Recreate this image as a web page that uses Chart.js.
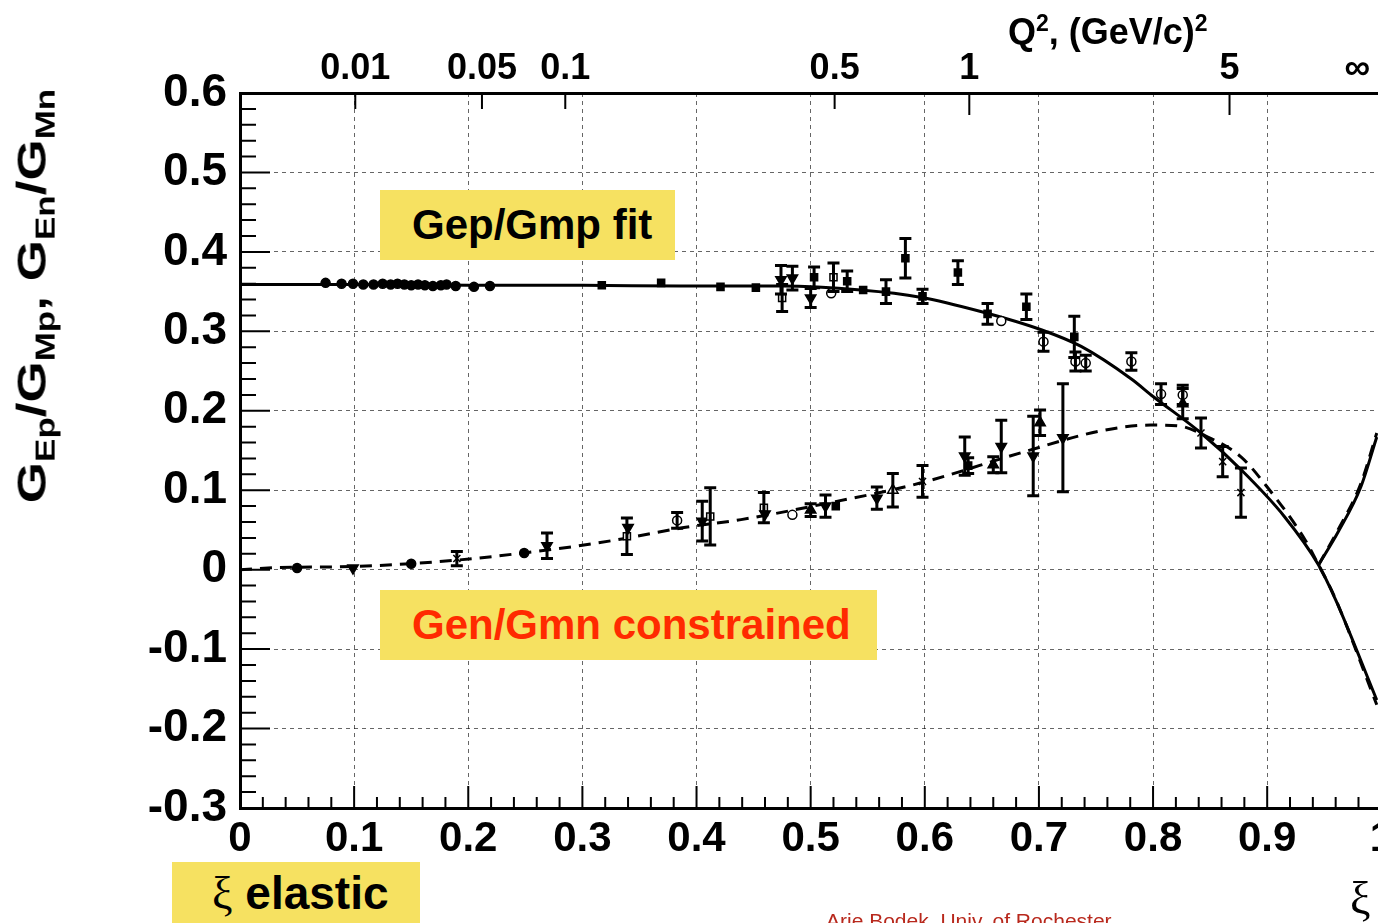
<!DOCTYPE html>
<html>
<head>
<meta charset="utf-8">
<script src="https://cdn.jsdelivr.net/npm/chart.js@4"></script>
<style>
  body { margin: 0; overflow: hidden; background: #fff; font-family: "Liberation Sans", Arial, sans-serif; }
  #wrap { position: relative; width: 1378px; height: 923px; overflow: hidden; }
  canvas { position: absolute; left: 0; top: 0; }
  .lbl { position: absolute; font-weight: bold; white-space: nowrap; }
  .box { position: absolute; background: #f6e161; font-weight: bold; font-size: 42px; white-space: nowrap; box-sizing: border-box; }
</style>
</head>
<body>
<div id="wrap">
  <canvas id="chart" width="1399" height="923"></canvas>
  <div class="lbl" id="ytitle" style="left:-178px; top:266px; width:420px; height:60px; line-height:60px; font-size:53px; text-align:center; transform: rotate(-90deg) scale(1, 0.78);">G<sub style="font-size:35px">Ep</sub>/G<sub style="font-size:35px">Mp</sub>, G<sub style="font-size:35px">En</sub>/G<sub style="font-size:35px">Mn</sub></div>
  <div class="lbl" style="left:1008px; top:10px; font-size:36px;">Q<sup style="font-size:23px">2</sup>, (GeV/c)<sup style="font-size:23px">2</sup></div>
  <div class="box" style="left:380px; top:190px; width:295px; height:70px; line-height:70px; padding-left:32px; color:#000;">Gep/Gmp fit</div>
  <div class="box" style="left:380px; top:590px; width:497px; height:70px; line-height:70px; padding-left:32px; color:#ff2a00;">Gen/Gmn constrained</div>
  <div class="box" style="left:172px; top:862px; width:248px; height:70px; line-height:62px; padding-left:40px; font-size:46px; color:#000;"><span style="font-family:'Liberation Serif',serif; font-weight:normal;">ξ</span> elastic</div>
  <div class="lbl" style="left:826px; top:909px; font-size:21px; font-weight:normal; color:#b8281c;">Arie Bodek, Univ. of Rochester</div>
  <div class="lbl" style="left:1350px; top:872px; font-size:46px; font-weight:normal; font-family:'Liberation Serif',serif;">ξ</div>
</div>
<script>
// top axis: Q^2 labels and where they sit in xi
const q2Labels = ['0.01', '0.05', '0.1', '0.5', '1', '5', '∞'];
const q2Xi = [0.101, 0.212, 0.285, 0.521, 0.639, 0.867, 0.979];

// Gep/Gmp fit (solid) and its reflected branch
const fitX = [0, 0.1, 0.2, 0.3, 0.386, 0.474, 0.544, 0.596, 0.649, 0.702, 0.737, 0.781, 0.8, 0.842, 0.877, 0.915, 0.945, 0.96, 0.996];
const fitY = [0.359, 0.359, 0.358, 0.358, 0.357, 0.357, 0.352, 0.343, 0.325, 0.302, 0.281, 0.24, 0.218, 0.172, 0.126, 0.067, 0.006, -0.038, -0.164];
const fitUpX = [0.945, 0.962, 0.982, 0.996];
const fitUpY = [0.006, 0.047, 0.104, 0.167];

// Gen/Gmn constrained (dashed) and its reflected branch
const conX = [0, 0.032, 0.1, 0.149, 0.205, 0.248, 0.292, 0.336, 0.389, 0.439, 0.509, 0.596, 0.684, 0.752, 0.798, 0.822, 0.848, 0.877, 0.9, 0.933, 0.945, 0.959, 0.996];
const conY = [0, 0.0025, 0.004, 0.0075, 0.014, 0.021, 0.029, 0.039, 0.053, 0.063, 0.082, 0.109, 0.147, 0.174, 0.182, 0.181, 0.167, 0.142, 0.104, 0.038, 0.006, -0.034, -0.17];
const conUpX = [0.945, 0.962, 0.982, 0.996];
const conUpY = [0.006, 0.05, 0.108, 0.172];

// proton data
const gepX = [0.075, 0.089, 0.099, 0.108, 0.117, 0.125, 0.132, 0.138, 0.144, 0.150, 0.156, 0.162, 0.169, 0.176, 0.181, 0.189, 0.205, 0.219,
  0.317, 0.369, 0.421, 0.452, 0.474, 0.475, 0.484, 0.500, 0.503, 0.518, 0.520, 0.532, 0.546, 0.566, 0.583, 0.598, 0.629, 0.655, 0.667,
  0.689, 0.704, 0.731, 0.732, 0.741, 0.781, 0.807, 0.826, 0.826, 0.842, 0.861, 0.877];
const gepY = [0.361, 0.360, 0.360, 0.359, 0.359, 0.360, 0.359, 0.360, 0.359, 0.358, 0.359, 0.358, 0.357, 0.358, 0.359, 0.357, 0.356, 0.357,
  0.358, 0.361, 0.356, 0.355, 0.365, 0.342, 0.367, 0.342, 0.368, 0.348, 0.368, 0.363, 0.352, 0.350, 0.392, 0.344, 0.374, 0.322, 0.313,
  0.331, 0.287, 0.293, 0.262, 0.260, 0.262, 0.221, 0.220, 0.209, 0.172, 0.136, 0.097];
const gepErr = [0, 0, 0, 0, 0, 0, 0, 0, 0, 0, 0, 0, 0, 0, 0, 0, 0, 0,
  0, 0, 0, 0, 0.018, 0.017, 0.015, 0.012, 0.013, 0, 0.018, 0.013, 0, 0.015, 0.025, 0.009, 0.015, 0.013, 0,
  0.016, 0.012, 0.026, 0.012, 0.010, 0.011, 0.013, 0.012, 0.019, 0.019, 0.019, 0.031];
const gepMark = ['circ', 'circ', 'circ', 'circ', 'circ', 'circ', 'circ', 'circ', 'circ', 'circ', 'circ', 'circ', 'circ', 'circ', 'circ', 'circ', 'circ', 'circ',
  'sq', 'sq', 'sq', 'sq', 'triD', 'osq', 'triD', 'triD', 'sq', 'ocirc', 'osq', 'sq', 'sq', 'sq', 'sq', 'sq', 'sq', 'sq', 'ocirc',
  'sq', 'ocirc', 'sq', 'ocirc', 'ocirc', 'ocirc', 'ocirc', 'ocirc', 'tri', 'x', 'x', 'x'];

// neutron data
const genX = [0.050, 0.099, 0.150, 0.190, 0.249, 0.269, 0.339, 0.340, 0.383, 0.405, 0.412, 0.459, 0.460, 0.484, 0.500, 0.513, 0.522,
  0.558, 0.572, 0.598, 0.635, 0.638, 0.660, 0.667, 0.695, 0.701, 0.721];
const genY = [0.002, 0.002, 0.0075, 0.014, 0.021, 0.030, 0.042, 0.053, 0.062, 0.061, 0.067, 0.078, 0.070, 0.069, 0.075, 0.080, 0.080,
  0.090, 0.100, 0.111, 0.143, 0.131, 0.132, 0.155, 0.143, 0.185, 0.166];
const genErr = [0, 0, 0, 0.009, 0, 0.016, 0.023, 0, 0.010, 0.025, 0.036, 0.019, 0, 0, 0.008, 0.014, 0,
  0.014, 0.021, 0.020, 0.024, 0.010, 0.010, 0.033, 0.050, 0.016, 0.068];
const genMark = ['circ', 'triD', 'circ', 'x', 'circ', 'triD', 'osq', 'triD', 'ocirc', 'triD', 'osq', 'osq', 'triD', 'ocirc', 'tri', 'triD', 'sq',
  'triD', 'otri', 'x', 'triD', 'sq', 'tri', 'triD', 'triD', 'tri', 'triD'];

const markStyle = {
  circ: ['circle', 0, '#000', 4.5],
  ocirc: ['circle', 0, '#fff', 4.5],
  sq: ['rect', 0, '#000', 5],
  osq: ['rect', 0, '#fff', 5],
  tri: ['triangle', 0, '#000', 6],
  otri: ['triangle', 0, '#fff', 6],
  triD: ['triangle', 180, '#000', 6],
  x: ['crossRot', 0, '#000', 5]
};

const pts = (xs, ys) => xs.map((x, i) => ({x: x, y: ys[i]}));

function dataSet(xs, ys, errs, marks) {
  return {
    type: 'scatter', data: pts(xs, ys), errors: errs, order: 1,
    pointStyle: marks.map(m => markStyle[m][0]),
    rotation: marks.map(m => markStyle[m][1]),
    backgroundColor: marks.map(m => markStyle[m][2]),
    pointRadius: marks.map(m => markStyle[m][3]),
    borderColor: '#000', borderWidth: 1.5
  };
}

function curve(xs, ys, dash) {
  return {
    type: 'line', data: pts(xs, ys), order: 2,
    borderColor: '#000', borderWidth: 3, borderDash: dash,
    pointRadius: 0, fill: false, cubicInterpolationMode: 'monotone'
  };
}

// error bars with caps
const errorBars = {
  id: 'errorBars',
  afterDatasetsDraw(chart) {
    const ctx = chart.ctx, ys = chart.scales.y;
    ctx.save();
    ctx.strokeStyle = '#000';
    ctx.lineWidth = 3;
    chart.data.datasets.forEach((ds, di) => {
      if (!ds.errors) return;
      const meta = chart.getDatasetMeta(di);
      ds.data.forEach((p, i) => {
        const e = ds.errors[i];
        if (!e) return;
        const px = meta.data[i].x;
        const top = ys.getPixelForValue(p.y + e), bot = ys.getPixelForValue(p.y - e);
        ctx.beginPath();
        ctx.moveTo(px, top); ctx.lineTo(px, bot);
        ctx.moveTo(px - 6, top); ctx.lineTo(px + 6, top);
        ctx.moveTo(px - 6, bot); ctx.lineTo(px + 6, bot);
        ctx.stroke();
      });
    });
    ctx.restore();
  }
};

// ROOT style ticks drawn inside the frame
const frameTicks = {
  id: 'frameTicks',
  afterDraw(chart) {
    const {ctx, chartArea: a} = chart;
    const x = chart.scales.x, y = chart.scales.y, x2 = chart.scales.x2;
    ctx.save();
    ctx.strokeStyle = '#000';
    ctx.lineWidth = 2;
    ctx.beginPath();
    for (let i = 0; i <= 50; i++) {
      const px = x.getPixelForValue(i / 50);
      ctx.moveTo(px, a.bottom); ctx.lineTo(px, a.bottom - (i % 5 ? 11 : 22));
    }
    for (let i = -15; i <= 30; i++) {
      const py = y.getPixelForValue(i / 50);
      ctx.moveTo(a.left, py); ctx.lineTo(a.left + (i % 5 ? 16 : 30), py);
    }
    q2Xi.forEach((v, i) => {
      if (q2Labels[i] === '∞') return;
      const px = x2.getPixelForValue(v);
      ctx.moveTo(px, a.top); ctx.lineTo(px, a.top + (v > 0.6 ? 22 : 16));
    });
    ctx.stroke();
    ctx.restore();
  }
};

const grid = {color: 'rgba(0,0,0,0.6)', lineWidth: 1, drawTicks: false};
const border = {display: true, width: 3, color: '#000', dash: [4, 4]};
const font = (s) => ({family: '"Liberation Sans", Arial, sans-serif', weight: 'bold', size: s});

new Chart(document.getElementById('chart'), {
  data: {
    datasets: [
      dataSet(gepX, gepY, gepErr, gepMark),
      dataSet(genX, genY, genErr, genMark),
      curve(fitX, fitY, []),
      curve(fitUpX, fitUpY, []),
      curve(conX, conY, [12, 8]),
      curve(conUpX, conUpY, [12, 8])
    ]
  },
  options: {
    responsive: false,
    animation: false,
    layout: {padding: 0},
    plugins: {legend: {display: false}, tooltip: {enabled: false}},
    scales: {
      x: {
        type: 'linear', position: 'bottom', min: 0, max: 1,
        grid: grid, border: border,
        ticks: {stepSize: 0.1, color: '#000', font: font(42), padding: 6, maxRotation: 0,
          callback: v => String(+v.toFixed(1))},
        afterFit: s => { s.height = 115; }
      },
      x2: {
        type: 'linear', position: 'top', min: 0, max: 1,
        grid: {display: false, drawTicks: false},
        border: {display: true, width: 3, color: '#000'},
        afterBuildTicks: s => { s.ticks = q2Xi.map(v => ({value: v})); },
        ticks: {color: '#000', font: font(36), padding: 2, autoSkip: false, maxRotation: 0,
          callback: (v, i) => q2Labels[i]},
        afterFit: s => { s.height = 93; }
      },
      y: {
        type: 'linear', min: -0.3, max: 0.6,
        grid: grid, border: border,
        ticks: {stepSize: 0.1, color: '#000', font: font(46), padding: 13,
          callback: v => String(+v.toFixed(1))},
        afterFit: s => { s.width = 240; }
      }
    }
  },
  plugins: [errorBars, frameTicks]
});
</script>
</body>
</html>
